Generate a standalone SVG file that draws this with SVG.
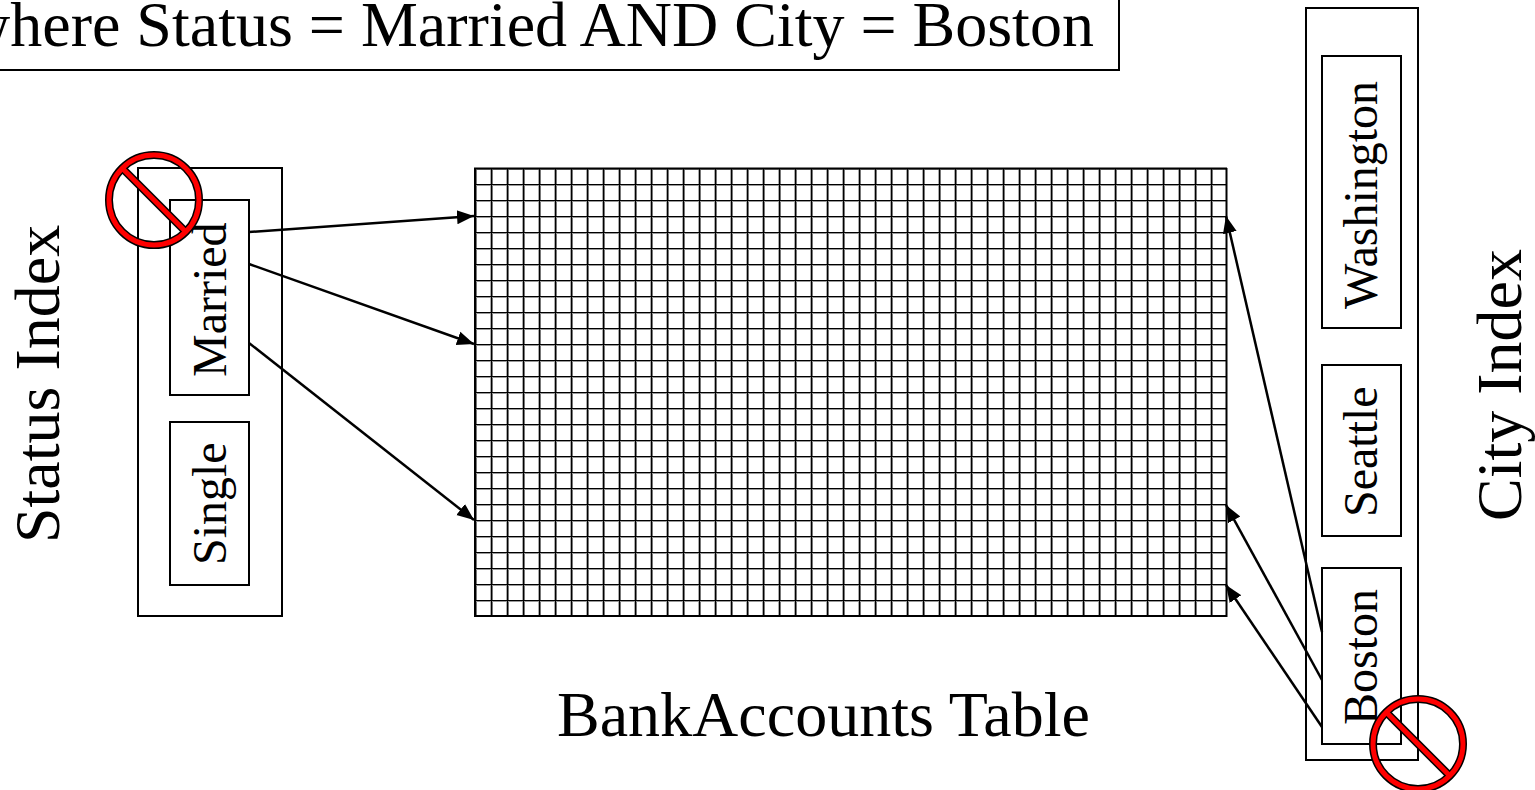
<svg xmlns="http://www.w3.org/2000/svg" width="1535" height="790" viewBox="0 0 1535 790">
<style>
text{font-family:"Liberation Serif","Times New Roman",serif;fill:#000}
.box{fill:#fff;stroke:#000;stroke-width:2}
.big{font-size:64px}
.small{font-size:48px}
.c{stroke:#000;stroke-width:2.5;fill:none;marker-end:url(#arrow)}
.noOuter{fill:none;stroke:#000;stroke-width:8}
.noInner{fill:none;stroke:#f00;stroke-width:5}
</style>
<defs>
<marker id="arrow" markerUnits="userSpaceOnUse" markerWidth="18" markerHeight="16" refX="17" refY="8" orient="auto"><path d="M0 1L17 8L0 15Z" fill="#000"/></marker>
<pattern id="cells" patternUnits="userSpaceOnUse" x="474" y="168" width="16" height="16">
<rect width="16" height="16" fill="#fff"/>
<rect x="0" width="1" height="16" fill="#aaa"/>
<rect x="2" width="1" height="16" fill="#777"/>
<rect y="1" width="16" height="1" fill="#999"/>
<rect x="1" width="1" height="16" fill="#000"/>
<rect y="0" width="16" height="1" fill="#000"/>
</pattern>
<g id="noSign">
<line class="noOuter" x1="-32" y1="-32" x2="32" y2="32"/>
<circle class="noOuter" r="45"/>
<line class="noInner" x1="-32" y1="-32" x2="32" y2="32"/>
<circle class="noInner" r="45"/>
</g>
</defs>
<g id="query"><rect class="box" x="-20" y="-10" width="1139" height="80"/><text class="big" x="-36" y="46">where Status = Married AND City = Boston</text></g>
<g id="status-index">
<rect class="box" x="138" y="168" width="144" height="448"/>
<text class="big" transform="translate(59 543) rotate(-90)">Status Index</text>
</g>
<g id="married"><rect class="box" x="170" y="200" width="79" height="195"/><text class="small" transform="translate(226 377) rotate(-90)">Married</text></g>
<g id="single"><rect class="box" x="170" y="422" width="79" height="163"/><text class="small" transform="translate(226 565) rotate(-90)">Single</text></g>
<g id="table">
<rect x="474" y="168" width="752" height="448" fill="url(#cells)"/>
<path d="M475 168V617M1226.500 168V617M474 168.500H1227M474 616H1227" fill="none" stroke="#000" stroke-width="2"/>
<text class="big" x="557" y="736">BankAccounts Table</text>
</g>
<g id="city-index">
<rect class="box" x="1306" y="8" width="112" height="752"/>
<text class="big" transform="translate(1521 521) rotate(-90)">City Index</text>
</g>
<g id="washington"><rect class="box" x="1322" y="56" width="79" height="272"/><text class="small" transform="translate(1377 309) rotate(-90)">Washington</text></g>
<g id="seattle"><rect class="box" x="1322" y="365" width="79" height="171"/><text class="small" transform="translate(1377 517) rotate(-90)">Seattle</text></g>
<g id="boston"><rect class="box" x="1322" y="568" width="79" height="176"/><text class="small" transform="translate(1377 725) rotate(-90)">Boston</text></g>
<g id="connectors">
<line class="c" x1="249" y1="232" x2="474" y2="216"/>
<line class="c" x1="249" y1="264" x2="474" y2="344"/>
<line class="c" x1="249" y1="343" x2="474" y2="520"/>
<line class="c" x1="1322" y1="632" x2="1226" y2="216"/>
<line class="c" x1="1322" y1="680" x2="1226" y2="505"/>
<line class="c" x1="1322" y1="727" x2="1226" y2="585"/>
</g>
<g id="no-status"><use href="#noSign" x="154" y="200"/></g>
<g id="no-boston"><use href="#noSign" x="1418" y="744"/></g>
</svg>
